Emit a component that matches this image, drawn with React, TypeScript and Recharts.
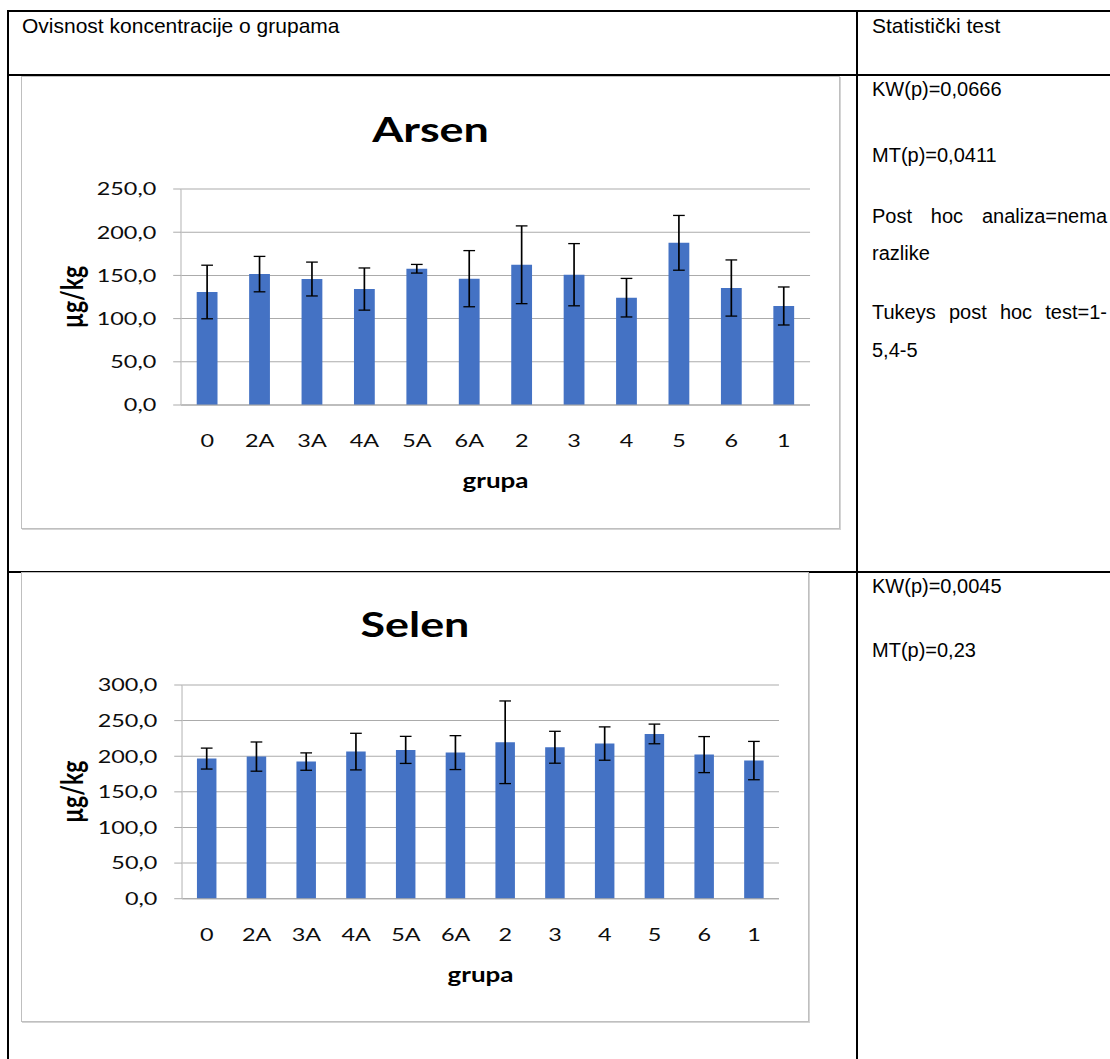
import React from 'react';
import { BarChart, Bar, XAxis, YAxis, CartesianGrid, ErrorBar } from 'recharts';

// groups on the x axis (same order in both charts)
const groups = ['0', '2A', '3A', '4A', '5A', '6A', '2', '3', '4', '5', '6', '1'];

// Arsen, µg/kg
const arsenMean = [130.8, 151.5, 145.8, 134.2, 157.7, 146.2, 162.3, 150.8, 124.2, 187.7, 135.4, 114.6];
const arsenSd = [31, 20.5, 19.6, 24.4, 5, 32.5, 45, 36, 22.3, 31.7, 32.5, 22];
const arsenTicks = [0, 50, 100, 150, 200, 250];

// Selen, µg/kg
const selenMean = [196.7, 199.5, 192.5, 206.5, 208.9, 205.1, 219.6, 212.6, 217.8, 231.3, 202.3, 193.9];
const selenSd = [14.7, 20.5, 12.2, 25.7, 19, 23.8, 58, 22.4, 23.4, 13.8, 25.3, 26.9];
const selenTicks = [0, 50, 100, 150, 200, 250, 300];

const arsenData = groups.map((g, i) => ({ group: g, value: arsenMean[i], sd: arsenSd[i] }));
const selenData = groups.map((g, i) => ({ group: g, value: selenMean[i], sd: selenSd[i] }));

// the pasted charts are stretched sideways in the document
const S = 1.3;
const chartFont = 'Lato, "Open Sans", sans-serif';
const tableFont = '"Liberation Sans", Arial, sans-serif';
const textSize = 20;

const fmt = (v: number) => v.toFixed(1).replace('.', ',');

function Txt({ x, baseline, width, justify, size = textSize, children }: any) {
  return (
    <div
      style={{
        position: 'absolute',
        left: x,
        top: baseline - 0.8465 * size,
        width,
        fontFamily: tableFont,
        fontSize: size,
        lineHeight: `${size}px`,
        color: '#000',
        whiteSpace: justify ? 'normal' : 'nowrap',
        textAlign: justify ? 'justify' : 'left',
        textAlignLast: justify ? 'justify' : undefined,
      }}
    >
      {children}
    </div>
  );
}

function ChartBox({ left, top, width, height, title, data, yMax, ticks, plotLeft, plotRight, plotTop, plotBottom, titleBase, tickGap, xTitleBase }: any) {
  const w = (width - 2) / S;
  const h = height - 2;
  const cy = (plotTop + plotBottom) / 2;
  return (
    <div
      style={{
        position: 'absolute',
        left,
        top,
        width: width - 2,
        height: h,
        border: '1px solid #bfbfbf',
        boxShadow: '1px 1px 0 #d4d4d4',
        background: '#fff',
        overflow: 'hidden',
      }}
    >
      <div style={{ position: 'absolute', left: 0, top: 0, width: w, height: h, transform: `scaleX(${S})`, transformOrigin: '0 0' }}>
        <BarChart
          width={w}
          height={h}
          data={data}
          margin={{ top: plotTop, right: w - plotRight, bottom: 0, left: 0 }}
          barCategoryGap="30%"
        >
          <CartesianGrid vertical={false} stroke="#ababab" />
          <XAxis
            dataKey="group"
            height={h - plotBottom}
            axisLine={{ stroke: '#a6a6a6' }}
            tickLine={false}
            tickSize={0}
            tickMargin={tickGap}
            interval={0}
            tick={{ fill: '#0d0d0d', fontSize: 18, fontFamily: chartFont }}
          />
          <YAxis
            width={plotLeft}
            domain={[0, yMax]}
            ticks={ticks}
            interval={0}
            tickFormatter={fmt}
            axisLine={{ stroke: '#c4c4c4' }}
            tickLine={{ stroke: '#ababab' }}
            tickSize={6}
            tickMargin={13}
            tick={{ fill: '#0d0d0d', fontSize: 18, fontFamily: chartFont }}
          />
          <Bar dataKey="value" fill="#4472C4" isAnimationActive={false}>
            <ErrorBar dataKey="sd" direction="y" width={4.5} stroke="#000" strokeWidth={1.3} isAnimationActive={false} />
          </Bar>
        </BarChart>
        <svg width={w} height={h} style={{ position: 'absolute', left: 0, top: 0, pointerEvents: 'none' }}>
          <text x={w / 2} y={titleBase} textAnchor="middle" fontFamily={chartFont} fontWeight={700} fontSize={34.5} fill="#000">
            {title}
          </text>
          <text
            x={38.5}
            y={cy}
            textAnchor="middle"
            dominantBaseline="central"
            transform={`rotate(-90 38.5 ${cy})`}
            fontFamily={chartFont}
            fontWeight={700}
            fontSize={23}
            fill="#000"
          >
            µg/kg
          </text>
          <text x={(plotLeft + plotRight) / 2} y={xTitleBase} textAnchor="middle" fontFamily={chartFont} fontWeight={700} fontSize={20} fill="#000">
            grupa
          </text>
        </svg>
      </div>
    </div>
  );
}

export default function App() {
  const line = '#000';
  return (
    <div style={{ position: 'fixed', left: 0, top: 0, width: 1110, height: 1059, overflow: 'hidden', background: '#fff' }}>
      {/* table grid */}
      <div style={{ position: 'absolute', left: 7, top: 10, width: 1110, height: 2, background: line }} />
      <div style={{ position: 'absolute', left: 7, top: 74, width: 1110, height: 2, background: line }} />
      <div style={{ position: 'absolute', left: 7, top: 571, width: 1110, height: 2, background: line }} />
      <div style={{ position: 'absolute', left: 7, top: 10, width: 2, height: 1060, background: line }} />
      <div style={{ position: 'absolute', left: 856, top: 10, width: 2, height: 1060, background: line }} />

      <Txt x={22} baseline={32.5} size={21}>Ovisnost koncentracije o grupama</Txt>
      <Txt x={872} baseline={32.5} size={21}>Statistički test</Txt>

      <Txt x={872} baseline={96}>KW(p)=0,0666</Txt>
      <Txt x={872} baseline={161.5}>MT(p)=0,0411</Txt>
      <Txt x={872} baseline={222.5} width={235} justify>Post hoc analiza=nema</Txt>
      <Txt x={872} baseline={260}>razlike</Txt>
      <Txt x={872} baseline={319} width={235} justify>Tukeys post hoc test=1-</Txt>
      <Txt x={872} baseline={357}>5,4-5</Txt>

      <Txt x={872} baseline={593}>KW(p)=0,0045</Txt>
      <Txt x={872} baseline={657}>MT(p)=0,23</Txt>

      <ChartBox
        left={21}
        top={76}
        width={819}
        height={453}
        title="Arsen"
        data={arsenData}
        yMax={250}
        ticks={arsenTicks}
        plotLeft={122.3}
        plotRight={606.2}
        plotTop={112}
        plotBottom={328}
        titleBase={65}
        tickGap={29}
        xTitleBase={411}
      />
      <ChartBox
        left={21}
        top={572}
        width={788}
        height={450}
        title="Selen"
        data={selenData}
        yMax={300}
        ticks={selenTicks}
        plotLeft={123.1}
        plotRight={582.3}
        plotTop={112}
        plotBottom={325.7}
        titleBase={64}
        tickGap={29.5}
        xTitleBase={409}
      />
    </div>
  );
}
